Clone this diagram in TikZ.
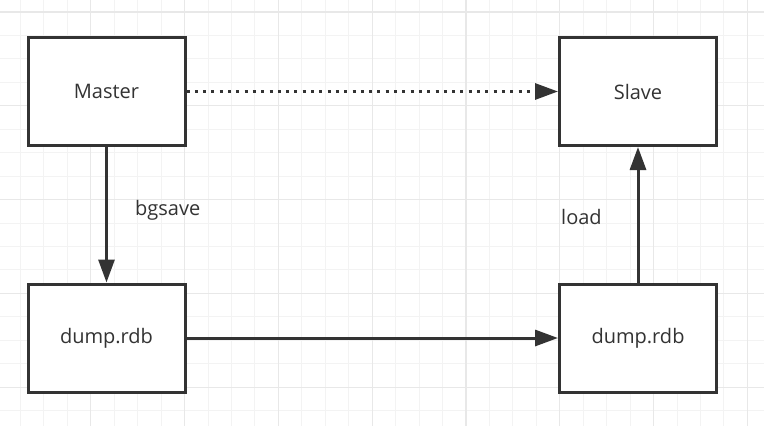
\documentclass[tikz,border=0pt]{standalone}
\usepackage{fontspec}
\setmainfont{Open Sans}
\usetikzlibrary{arrows.meta}
\definecolor{gridminor}{HTML}{F3F3F3}
\definecolor{gridmajor}{HTML}{E8E8E8}
\definecolor{ink}{HTML}{333333}
\tikzset{
  box/.style={draw=ink, line width=3pt, fill=white, minimum width=157pt, minimum height=108pt, inner sep=0pt, text=ink, font=\fontsize{20}{24}\selectfont},
  lbl/.style={text=ink, font=\fontsize{20}{24}\selectfont, inner sep=0pt},
  conn/.style={draw=ink, line width=3pt, -{Triangle[length=23pt,width=16pt]}},
  minorline/.style={draw=gridminor, line width=1pt},
  majorline/.style={draw=gridmajor, line width=1.2pt}
}
\begin{document}
\begin{tikzpicture}[x=1pt,y=-1pt]
\useasboundingbox (0,0) rectangle (764,426);
\fill[white] (0,0) rectangle (764,426);
\foreach \i in {1,...,33} {\draw[minorline] ({-3+23.45*\i},0) -- ({-3+23.45*\i},426);}
\foreach \i in {0,...,18} {\draw[minorline] (0,{12+23.45*\i}) -- (764,{12+23.45*\i});}
\foreach \i in {1,...,8} {\draw[majorline] ({-3+93.8*\i},0) -- ({-3+93.8*\i},426);}
\foreach \i in {0,...,4} {\draw[majorline] (0,{12+93.8*\i}) -- (764,{12+93.8*\i});}

\node[box] (master) at (106.5,91.5) {Master};
\node[box] (slave) at (638,91.5) {Slave};
\node[box] (dumpl) at (106.5,338) {dump.rdb};
\node[box] (dumpr) at (638,338) {dump.rdb};

\draw[conn, dash pattern=on 3pt off 5.3pt] (master) -- (slave);
\draw[conn] (master) -- (dumpl);
\draw[conn] (dumpl) -- (dumpr);
\draw[conn] (dumpr) -- (slave);

\node[lbl, anchor=west] (lblbg) at (135,210) {bgsave};
\node[lbl, anchor=west] (lblload) at (561,217) {load};
\end{tikzpicture}
\end{document}
